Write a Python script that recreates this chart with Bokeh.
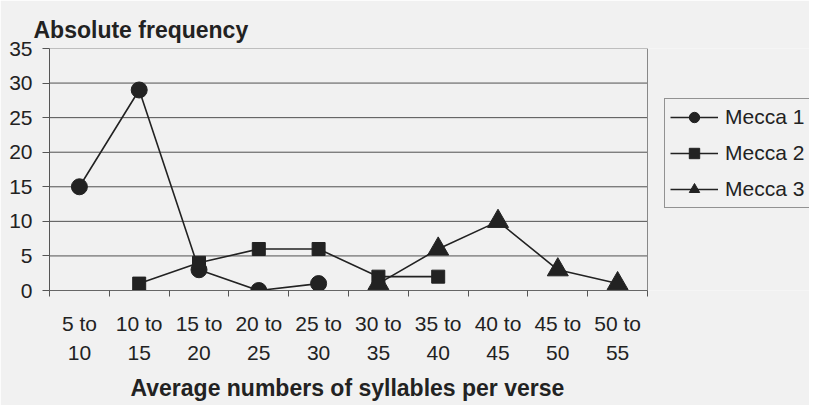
from bokeh.plotting import figure
from bokeh.models import (Range1d, FixedTicker, Legend, LegendItem,
                          ColumnDataSource, Title)
from bokeh.embed import file_html
from bokeh.resources import INLINE

categories = ["5 to 10", "10 to 15", "15 to 20", "20 to 25", "25 to 30",
              "30 to 35", "35 to 40", "40 to 45", "45 to 50", "50 to 55"]
tick_labels = ["5 to\n10", "10 to\n15", "15 to\n20", "20 to\n25", "25 to\n30",
               "30 to\n35", "35 to\n40", "40 to\n45", "45 to\n50", "50 to\n55"]
nan = float("nan")
mecca1 = [15, 29, 3, 0, 1, nan, nan, nan, nan, nan]
mecca2 = [nan, 1, 4, 6, 6, 2, 2, nan, nan, nan]
mecca3 = [nan, nan, nan, nan, nan, 1, 6, 10, 3, 1]
y_ticks = [0, 5, 10, 15, 20, 25, 30, 35]
series_names = ["Mecca 1", "Mecca 2", "Mecca 3"]

FONT = "Liberation Sans"
BG = "#f1f1f1"
INK = "#222222"

W, H = 809, 405
LEFT, TOP, BOTTOM = 49, 48, 115
PLOT_W = 598                     # width of the category area in px
n = len(categories)
centers = [i + 0.5 for i in range(n)]   # category slot centers
bounds = list(range(n + 1))             # category slot boundaries
x_end = n * (W - LEFT) / PLOT_W         # frame extends to the right for legend

p = figure(width=W, height=H, output_backend="svg", toolbar_location=None,
           x_range=Range1d(0, x_end), y_range=Range1d(0, y_ticks[-1]),
           min_border_left=LEFT, min_border_right=0, min_border_top=TOP,
           min_border_bottom=BOTTOM)
p.background_fill_color = BG
p.border_fill_color = BG
p.outline_line_color = None
p.xgrid.visible = False
p.ygrid.visible = False

# grid lines limited to the category area
p.segment(x0=0, x1=n, y0=y_ticks[:-1], y1=y_ticks[:-1],
          line_color="#505050", line_width=1)
p.segment(x0=0, x1=n, y0=y_ticks[-1], y1=y_ticks[-1],
          line_color="#888888", line_width=1)
p.segment(x0=n, x1=n, y0=0, y1=y_ticks[-1], line_color="#888888", line_width=1)

p.title.text = "Absolute frequency"
p.title.text_font = FONT
p.title.text_font_size = "23px"
p.title.text_font_style = "bold"
p.title.text_color = INK
p.title.align = "left"
p.title.vertical_align = "top"
p.title.offset = -16
p.title.standoff = 8

# y axis
ya = p.yaxis[0]
ya.ticker = FixedTicker(ticks=y_ticks)
ya.axis_line_color = "#555555"
ya.major_tick_line_color = "#555555"
ya.major_tick_in = 0
ya.major_tick_out = 7
ya.minor_tick_line_color = None
ya.major_label_standoff = 10
ya.major_label_text_font = FONT
ya.major_label_text_font_size = "21px"
ya.major_label_text_color = INK

# x axis: category labels at slot centers, boundary ticks as minor ticks
xa = p.xaxis[0]
xa.bounds = (0, n)
xa.ticker = FixedTicker(ticks=centers, minor_ticks=bounds)
xa.major_label_overrides = {c: t for c, t in zip(centers, tick_labels)}
xa.major_tick_line_color = None
xa.major_tick_out = 6
xa.major_tick_in = 0
xa.minor_tick_line_color = "#555555"
xa.minor_tick_out = 6
xa.minor_tick_in = 0
xa.axis_line_color = "#666666"
xa.major_label_standoff = 15
xa.major_label_text_font = FONT
xa.major_label_text_font_size = "21px"
xa.major_label_text_line_height = 1.3
xa.major_label_text_color = INK

# x axis title, under the category area
xt = Title(text="Average numbers of syllables per verse", align="left",
           offset=81, standoff=10,
           text_font=FONT, text_font_size="23px", text_font_style="bold",
           text_color=INK)
p.add_layout(xt, "below")

# series
items = []
markers = ["circle", "square", "triangle"]
sizes = [16, 13, 21]
for name, vals, mk, sz in zip(series_names, [mecca1, mecca2, mecca3], markers, sizes):
    src = ColumnDataSource(dict(x=centers, y=vals, cat=categories))
    ln = p.line("x", "y", source=src, line_color=INK, line_width=1.6)
    sc = p.scatter("x", "y", source=src, marker=mk, size=sz,
                   fill_color=INK, line_color=INK)
    items.append(LegendItem(label=name, renderers=[ln, sc]))

legend = Legend(items=items, location=(615, 82))
legend.background_fill_color = BG
legend.background_fill_alpha = 1
legend.border_line_color = "#333333"
legend.label_text_font = FONT
legend.label_text_font_size = "21px"
legend.label_text_color = INK
legend.glyph_width = 48
legend.glyph_height = 26
legend.label_height = 26
legend.label_standoff = 7
legend.label_width = 100
legend.spacing = 10
legend.padding = 5
legend.margin = 0
p.add_layout(legend, "center")

open("out.html", "w").write(file_html(p, INLINE))
